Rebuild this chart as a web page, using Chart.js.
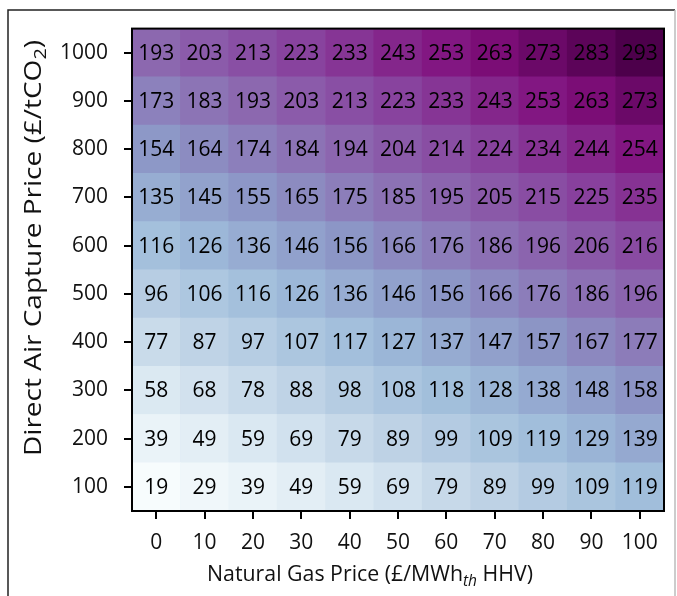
<!DOCTYPE html>
<html>
<head>
<meta charset="utf-8">
<script src="https://cdn.jsdelivr.net/npm/chart.js@4/dist/chart.umd.min.js"></script>
<style>
  html, body { margin: 0; padding: 0; background: #ffffff; }
  #wrap { width: 677px; height: 596px; }
</style>
</head>
<body>
<div id="wrap"><canvas id="heat" width="677" height="596"></canvas></div>
<script>
// Natural gas price (£/MWh_th HHV) along x, direct air capture price (£/tCO2) along y
const gasPrices = [0, 10, 20, 30, 40, 50, 60, 70, 80, 90, 100];
const dacPrices = [100, 200, 300, 400, 500, 600, 700, 800, 900, 1000];

// Cost values per DAC price row (left to right = gas price 0..100)
const row100  = [19, 29, 39, 49, 59, 69, 79, 89, 99, 109, 119];
const row200  = [39, 49, 59, 69, 79, 89, 99, 109, 119, 129, 139];
const row300  = [58, 68, 78, 88, 98, 108, 118, 128, 138, 148, 158];
const row400  = [77, 87, 97, 107, 117, 127, 137, 147, 157, 167, 177];
const row500  = [96, 106, 116, 126, 136, 146, 156, 166, 176, 186, 196];
const row600  = [116, 126, 136, 146, 156, 166, 176, 186, 196, 206, 216];
const row700  = [135, 145, 155, 165, 175, 185, 195, 205, 215, 225, 235];
const row800  = [154, 164, 174, 184, 194, 204, 214, 224, 234, 244, 254];
const row900  = [173, 183, 193, 203, 213, 223, 233, 243, 253, 263, 273];
const row1000 = [193, 203, 213, 223, 233, 243, 253, 263, 273, 283, 293];
const costRows = [row100, row200, row300, row400, row500, row600, row700, row800, row900, row1000];

// BuPu colour ramp
const BUPU = ['#f7fcfd', '#e0ecf4', '#bfd3e6', '#9ebcda', '#8c96c6', '#8c6bb1', '#88419d', '#810f7c', '#4d004b'];
const allVals = costRows.flat();
const vMin = Math.min(...allVals), vMax = Math.max(...allVals);
function hexRgb(h) { return [1, 3, 5].map(i => parseInt(h.substr(i, 2), 16)); }
function bupu(v) {
  let t = (v - vMin) / (vMax - vMin);
  t = Math.max(0, Math.min(1, t)) * (BUPU.length - 1);
  const i = Math.min(Math.floor(t), BUPU.length - 2), f = t - i;
  const a = hexRgb(BUPU[i]), b = hexRgb(BUPU[i + 1]);
  const c = a.map((x, k) => Math.round(x + (b[k] - x) * f));
  return `rgb(${c[0]},${c[1]},${c[2]})`;
}

const FONT = '"Open Sans", "DejaVu Sans", sans-serif';
const HALF = 50; // half the spacing between DAC price rows

const datasets = dacPrices.map((dac, r) => ({
  label: String(dac),
  data: costRows[r].map(() => [dac - HALF, dac + HALF]),
  values: costRows[r],
  backgroundColor: costRows[r].map(bupu),
  borderWidth: 0,
  barPercentage: 1.0,
  categoryPercentage: 1.0,
  grouped: false
}));

// Cost numbers written in each cell
const cellLabels = {
  id: 'cellLabels',
  afterDatasetsDraw(chart) {
    const ctx = chart.ctx;
    ctx.save();
    ctx.font = `21px ${FONT}`;
    ctx.fillStyle = '#000000';
    ctx.textAlign = 'center';
    ctx.textBaseline = 'middle';
    chart.data.datasets.forEach((ds, di) => {
      chart.getDatasetMeta(di).data.forEach((bar, j) => {
        ctx.fillText(String(ds.values[j]), bar.x, (bar.y + bar.base) / 2 + 1);
      });
    });
    ctx.restore();
  }
};

// Axis titles with subscript parts, laid out to a given length
function drawRich(ctx, parts, size, length) {
  const fontFor = p => `${p.italic ? 'italic ' : ''}${p.sub ? Math.round(size * 0.72) : size}px ${FONT}`;
  const widths = parts.map(p => { ctx.font = fontFor(p); return ctx.measureText(p.t).width; });
  const total = widths.reduce((a, b) => a + b, 0);
  if (length) ctx.scale(length / total, 1);
  let x = -total / 2;
  parts.forEach((p, i) => {
    ctx.font = fontFor(p);
    ctx.fillText(p.t, x, p.sub ? size * 0.28 : 0);
    x += widths[i];
  });
}

const decorations = {
  id: 'decorations',
  afterDraw(chart) {
    const ctx = chart.ctx, a = chart.chartArea;
    ctx.save();
    // outer figure border
    ctx.lineWidth = 1.5;
    ctx.strokeStyle = '#222222';
    ctx.beginPath();
    ctx.moveTo(8, 600); ctx.lineTo(8, 10); ctx.lineTo(675, 10);
    ctx.stroke();
    ctx.strokeStyle = '#bbbbbb';
    ctx.beginPath();
    ctx.moveTo(675, 10); ctx.lineTo(675, 600);
    ctx.stroke();
    // plot frame
    ctx.strokeStyle = '#000000';
    ctx.lineWidth = 2;
    ctx.strokeRect(a.left, a.top, a.right - a.left, a.bottom - a.top);
    // axis titles
    ctx.fillStyle = '#111111';
    ctx.textBaseline = 'middle';
    ctx.textAlign = 'left';
    ctx.save();
    ctx.translate(370, 575);
    drawRich(ctx, [
      { t: 'Natural Gas Price (£/MWh' },
      { t: 'th', sub: true, italic: true },
      { t: ' HHV)' }
    ], 22, 326);
    ctx.restore();
    ctx.save();
    ctx.translate(34, 248);
    ctx.rotate(-Math.PI / 2);
    drawRich(ctx, [
      { t: 'Direct Air Capture Price (£/tCO' },
      { t: '2', sub: true },
      { t: ')' }
    ], 24, 416);
    ctx.restore();
    ctx.restore();
  }
};

const gridCommon = { drawOnChartArea: false, drawTicks: true, tickLength: 8, color: '#000000', lineWidth: 2, offset: false };
const borderCommon = { display: true, color: '#000000', width: 2 };
const tickFont = { family: FONT, size: 21 };

new Chart(document.getElementById('heat'), {
  type: 'bar',
  data: { labels: gasPrices.map(String), datasets },
  options: {
    responsive: false,
    devicePixelRatio: 1,
    animation: false,
    layout: { padding: { top: 27, right: 13, left: 0, bottom: 0 } },
    plugins: { legend: { display: false }, tooltip: { enabled: false } },
    scales: {
      x: {
        type: 'category',
        grid: gridCommon,
        border: borderCommon,
        ticks: { color: '#111111', font: tickFont, padding: 11, maxRotation: 0, autoSkip: false },
        afterFit(scale) { scale.height = 85; }
      },
      y: {
        type: 'linear',
        min: 50,
        max: 1050,
        grid: gridCommon,
        border: borderCommon,
        ticks: { color: '#111111', font: tickFont, padding: 16, callback: v => String(v) },
        afterBuildTicks(scale) { scale.ticks = dacPrices.map(v => ({ value: v })); },
        afterFit(scale) { scale.width = 132; }
      }
    }
  },
  plugins: [cellLabels, decorations]
});
</script>
</body>
</html>
